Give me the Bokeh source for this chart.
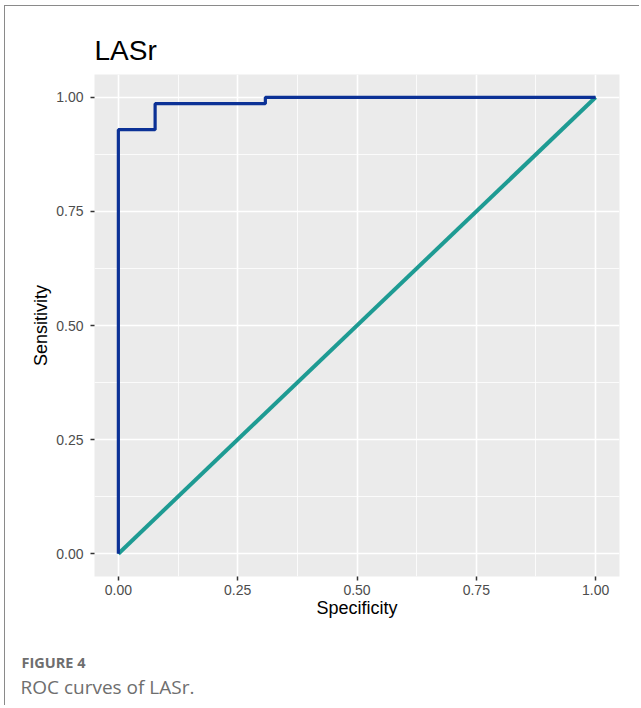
from bokeh.plotting import figure
from bokeh.models import FixedTicker, Title, Range1d
from bokeh.embed import file_html
from bokeh.resources import INLINE

# Data
title_text = "LASr"
x_label = "Specificity"
y_label = "Sensitivity"
tick_values = [0.0, 0.25, 0.5, 0.75, 1.0]
tick_labels = ["0.00", "0.25", "0.50", "0.75", "1.00"]
minor_values = [0.125, 0.375, 0.625, 0.875]
roc_x = [0.0, 0.0, 0.077, 0.077, 0.308, 0.308, 1.0]
roc_y = [0.0, 0.929, 0.929, 0.986, 0.986, 1.0, 1.0]
ref_x = [0.0, 1.0]
ref_y = [0.0, 1.0]
caption_head = "FIGURE 4"
caption_text = "ROC curves of LASr."

W, H = 635, 700
p = figure(width=W, height=H, output_backend="svg", toolbar_location=None,
           x_range=Range1d(-0.05, 1.05), y_range=Range1d(-0.05, 1.05),
           min_border_left=89, min_border_right=21, min_border_top=68, min_border_bottom=130)
p.styles = {"border-top": "1px solid #8A8A8A", "border-left": "1px solid #8A8A8A",
            "margin-left": "4px", "margin-top": "5px"}
p.background_fill_color = "#EBEBEB"
p.border_fill_color = "white"
p.outline_line_color = None

p.title.text = title_text
p.title.text_font = "Liberation Sans"
p.title.text_font_size = "28px"
p.title.text_font_style = "normal"
p.title.text_color = "black"
p.title.align = "left"
p.title.standoff = 17

for ax in (p.xaxis[0], p.yaxis[0]):
    ax.ticker = FixedTicker(ticks=tick_values, minor_ticks=minor_values)
    ax.major_label_overrides = {v: l for v, l in zip(tick_values, tick_labels)}
    ax.axis_line_color = None
    ax.major_tick_in = 0
    ax.major_tick_out = 4
    ax.major_tick_line_color = "#333333"
    ax.major_tick_line_width = 1.5
    ax.minor_tick_line_color = None
    ax.major_label_text_font = "Liberation Sans"
    ax.major_label_text_font_size = "14px"
    ax.major_label_text_color = "#4D4D4D"
    ax.axis_label_text_font = "Liberation Sans"
    ax.axis_label_text_font_size = "18px"
    ax.axis_label_text_font_style = "normal"
    ax.axis_label_text_color = "black"

p.xaxis.axis_label = x_label
p.yaxis.axis_label = y_label
p.xaxis.major_label_standoff = 4
p.xaxis.axis_label_standoff = 0
p.yaxis.major_label_standoff = 7
p.yaxis.axis_label_standoff = 2

for g in (p.xgrid[0], p.ygrid[0]):
    g.ticker = FixedTicker(ticks=tick_values, minor_ticks=minor_values)
    g.grid_line_color = "white"
    g.grid_line_width = 1.6
    g.minor_grid_line_color = "white"
    g.minor_grid_line_width = 0.8

p.line(ref_x, ref_y, line_color="#1E9B93", line_width=4)
p.line(roc_x, roc_y, line_color="#0B3196", line_width=3.2)

# invisible spacer between the x axis and the caption
p.add_layout(Title(text=" ", text_font_size="1px", standoff=27), "below")
p.add_layout(Title(text=caption_head, text_font="Open Sans", text_font_size="14.5px",
                   text_font_style="bold", text_color="#6E6E6E", align="left",
                   offset=-73, standoff=0), "below")
p.add_layout(Title(text=caption_text, text_font="Open Sans", text_font_size="19px",
                   text_font_style="normal", text_color="#6E6E6E", align="left",
                   offset=-74, standoff=0), "below")

open("out.html", "w").write(file_html(p, INLINE))
